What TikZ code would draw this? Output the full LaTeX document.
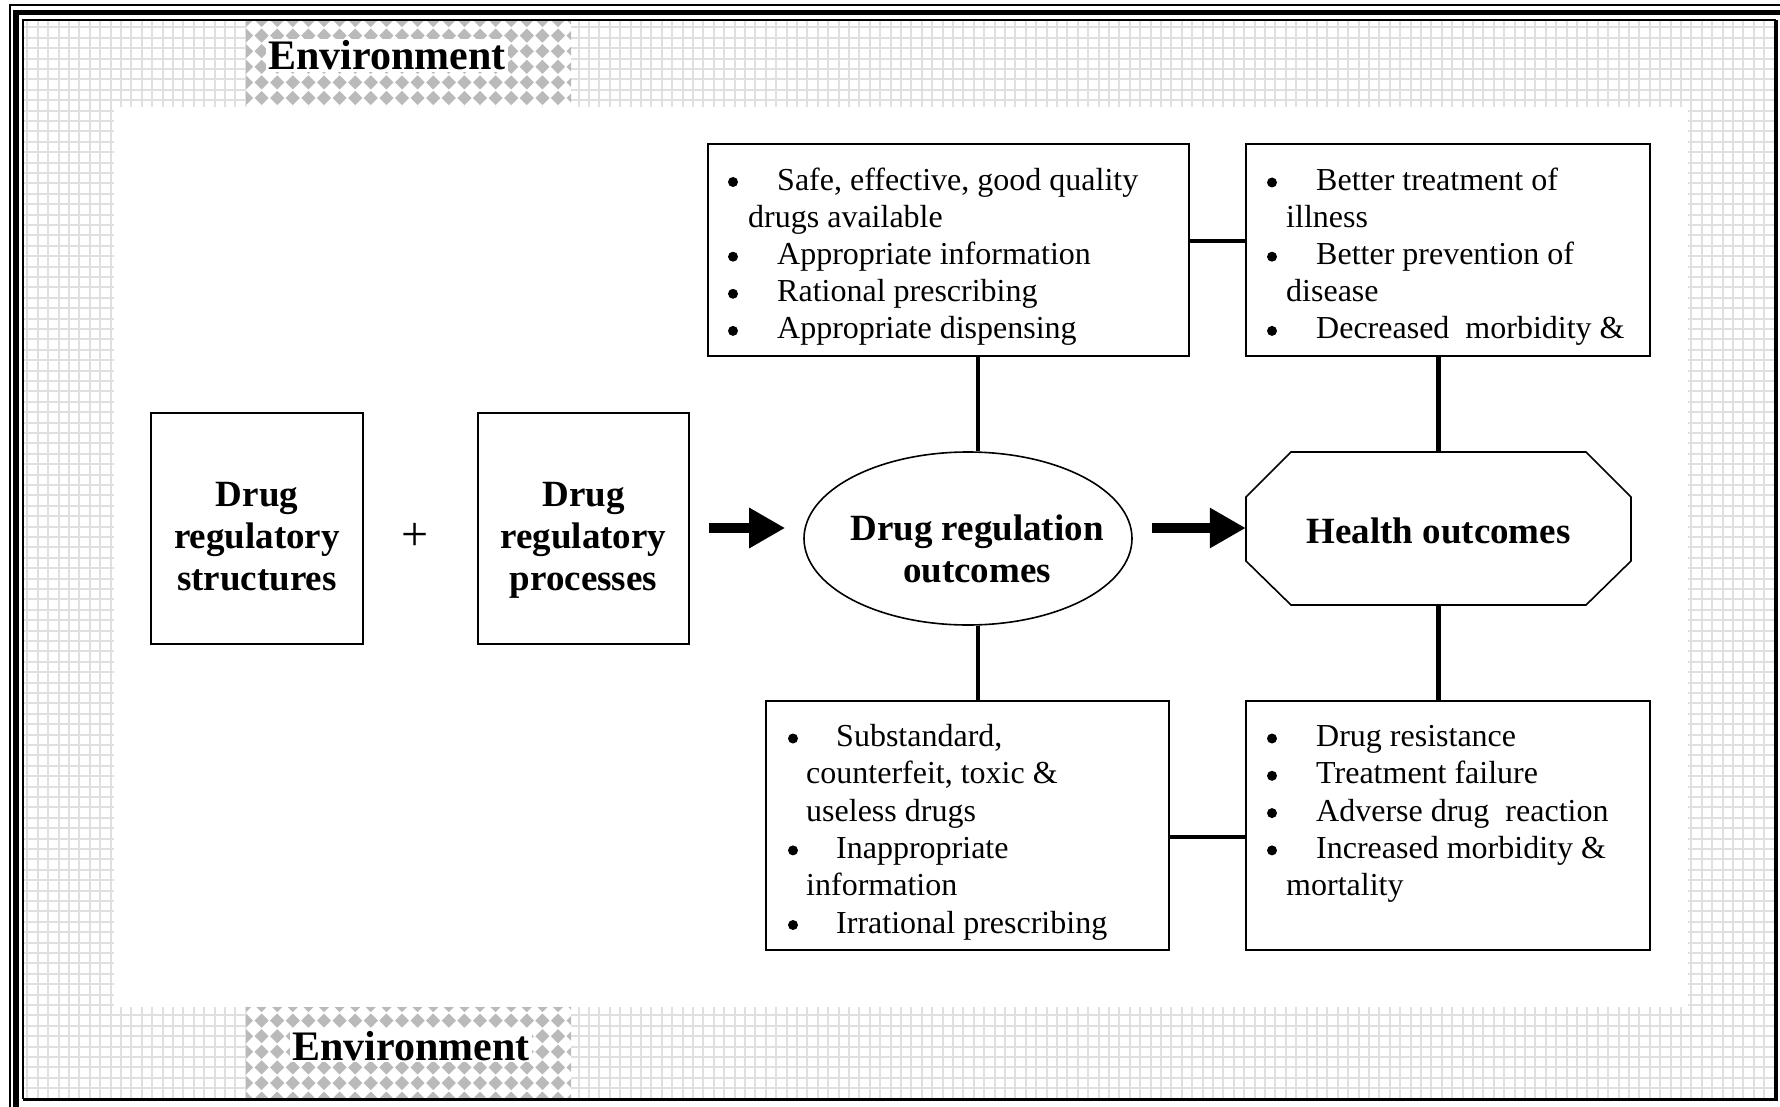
\documentclass[tikz,border=0pt]{standalone}
\usepackage{fontspec}
\setmainfont{Liberation Serif}
\usetikzlibrary{arrows.meta,shapes.geometric}
\begin{document}
\begin{tikzpicture}[x=1pt,y=-1pt,
  box/.style={draw, line width=1.6pt, fill=white, inner sep=0pt},
  conn/.style={line width=4.5pt},
  arr/.style={line width=10pt, -{Triangle[length=36pt,width=38pt]}},
  lbl/.style={inner sep=0pt, anchor=base, font=\fontsize{37}{42}\selectfont\bfseries},
  envl/.style={inner sep=2pt, anchor=base, fill=white, font=\fontsize{42}{48}\selectfont\bfseries},
  itm/.style={inner sep=0pt, anchor=base west, font=\fontsize{32}{37}\selectfont},
  bul/.style={circle, fill=black, inner sep=0pt, minimum size=10pt},
  gridl/.style={line width=2pt, draw=black!12},
  dia/.style={fill=black!27},
]
\useasboundingbox (0,0) rectangle (1780,1107);
\fill[white] (0,0) rectangle (1780,1107);
% grid background
\draw[gridl] \foreach \x in {27.4,37.8,...,1776} {(\x,20) -- (\x,1099)};
\draw[gridl] \foreach \y in {27.4,37.8,...,1099} {(23,\y) -- (1776,\y)};
% inner white area
\fill[white] (113.5,107) rectangle (1688,1007);
% diamond areas
\begin{scope}
\clip (246,20) rectangle (571,107);
\fill[white] (246,20) rectangle (571,107);
\foreach \i in {0,...,21} \foreach \j in {0,...,6}
  \fill[dia] ({246+\i*15.6},{20+\j*15.6}) +(-7.1,0) -- +(0,7.1) -- +(7.1,0) -- +(0,-7.1) -- cycle;
\end{scope}
\begin{scope}
\clip (246,1007) rectangle (571,1099);
\fill[white] (246,1007) rectangle (571,1099);
\foreach \i in {0,...,21} \foreach \j in {0,...,7}
  \fill[dia] ({246+\i*15.6},{1005+\j*15.6}) +(-7.1,0) -- +(0,7.1) -- +(7.1,0) -- +(0,-7.1) -- cycle;
\end{scope}
% border
\draw[line width=2pt] (10,1107) -- (10,5) -- (1780,5);
\draw[line width=5.5pt] (16,1107) -- (16,12.5) -- (1780,12.5);
\draw[line width=2.5pt] (23,1099) -- (23,20) -- (1776,20);
\draw[line width=3.2pt] (1776,20) -- (1776,1099.5) -- (23,1099.5);
% environment labels
\node[envl] (env1) at (387,70) {Environment};
\node[envl] (env2) at (411,1060) {Environment};

% main boxes
\node[box, minimum width=212pt, minimum height=231pt] (s1) at (257,528.5) {};
\node[box, minimum width=211pt, minimum height=231pt] (s2) at (583.5,528.5) {};
\node[lbl] (s1a) at (257,506) {Drug};
\node[lbl] (s1b) at (257,548) {regulatory};
\node[lbl] (s1c) at (257,590) {structures};
\node[lbl] (s2a) at (583.5,506) {Drug};
\node[lbl] (s2b) at (583.5,548) {regulatory};
\node[lbl] (s2c) at (583.5,590) {processes};
\node[inner sep=0pt, font=\fontsize{48}{54}\selectfont] (plus) at (415,537) {+};

\node[draw, ellipse, line width=1.6pt, fill=white, inner sep=0pt, minimum width=328pt, minimum height=173pt] (e) at (968,538.5) {};
\node[lbl] (ea) at (977,540) {Drug regulation};
\node[lbl] (eb) at (977,582) {outcomes};

\draw[line width=1.6pt, fill=white] (1291,452) -- (1586,452) -- (1631,497) -- (1631,561) -- (1586,605) -- (1291,605) -- (1246,561) -- (1246,497) -- cycle;
\node[inner sep=0pt, minimum width=385pt, minimum height=153pt] (h) at (1438.5,528.5) {};
\node[lbl] (ha) at (1438.5,543) {Health outcomes};

% arrows
\coordinate (ay) at (0,528);
\draw[arr, shorten <=19pt, shorten >=18pt] (s2.east |- ay) -- (e.west |- ay);
\draw[arr, shorten <=19pt] (e.east |- ay) -- (h.west |- ay);

% bullet boxes
\node[box, minimum width=481pt, minimum height=212pt] (tl) at (948.5,250) {};
\node[box, minimum width=404pt, minimum height=212pt] (tr) at (1448,250) {};
\node[box, minimum width=403pt, minimum height=249pt] (bl) at (967.5,825.5) {};
\node[box, minimum width=404pt, minimum height=249pt] (br) at (1448,825.5) {};

% connectors
\coordinate (cx) at (978,0);
\coordinate (cy1) at (0,241);
\coordinate (cy2) at (0,837);
\draw[conn] (tl.south -| cx) -- (e.north -| cx);
\draw[conn] (e.south -| cx) -- (bl.north -| cx);
\draw[conn] (tl.east |- cy1) -- (tr.west |- cy1);
\draw[conn] (tr.south -| h.north) -- (h.north);
\draw[conn] (h.south) -- (br.north -| h.south);
\draw[conn] (bl.east |- cy2) -- (br.west |- cy2);

% top-left box text
\node[bul] (tlb1) at (733,182) {};
\node[itm] (tlt1) at (777,190.5) {Safe, effective, good quality};
\node[itm] (tlt2) at (748,227.6) {drugs available};
\node[bul] (tlb3) at (733,256.7) {};
\node[itm] (tlt3) at (777,264.7) {Appropriate information};
\node[bul] (tlb4) at (733,293.8) {};
\node[itm] (tlt4) at (777,301.8) {Rational prescribing};
\node[bul] (tlb5) at (733,330.9) {};
\node[itm] (tlt5) at (777,338.9) {Appropriate dispensing};

% top-right box text
\node[bul] (trb1) at (1272,182.5) {};
\node[itm] (trt1) at (1316,190.5) {Better treatment of};
\node[itm] (trt2) at (1286,227.6) {illness};
\node[bul] (trb3) at (1272,256.7) {};
\node[itm] (trt3) at (1316,264.7) {Better prevention of};
\node[itm] (trt4) at (1286,301.8) {disease};
\node[bul] (trb5) at (1272,330.9) {};
\node[itm] (trt5) at (1316,338.9) {Decreased\ \ morbidity \&};

% bottom-left box text
\node[bul] (blb1) at (793,738.5) {};
\node[itm] (blt1) at (836,746.5) {Substandard,};
\node[itm] (blt2) at (806,783.8) {counterfeit, toxic \&};
\node[itm] (blt3) at (806,821.1) {useless drugs};
\node[bul] (blb4) at (793,850.4) {};
\node[itm] (blt4) at (836,858.4) {Inappropriate};
\node[itm] (blt5) at (806,895.7) {information};
\node[bul] (blb6) at (793,925) {};
\node[itm] (blt6) at (836,933) {Irrational prescribing};

% bottom-right box text
\node[bul] (brb1) at (1272,738.5) {};
\node[itm] (brt1) at (1316,746.5) {Drug resistance};
\node[bul] (brb2) at (1272,775.8) {};
\node[itm] (brt2) at (1316,783.8) {Treatment failure};
\node[bul] (brb3) at (1272,813.1) {};
\node[itm] (brt3) at (1316,821.1) {Adverse drug\ \ reaction};
\node[bul] (brb4) at (1272,850.4) {};
\node[itm] (brt4) at (1316,858.4) {Increased morbidity \&};
\node[itm] (brt5) at (1286,895.7) {mortality};
\end{tikzpicture}
\end{document}
